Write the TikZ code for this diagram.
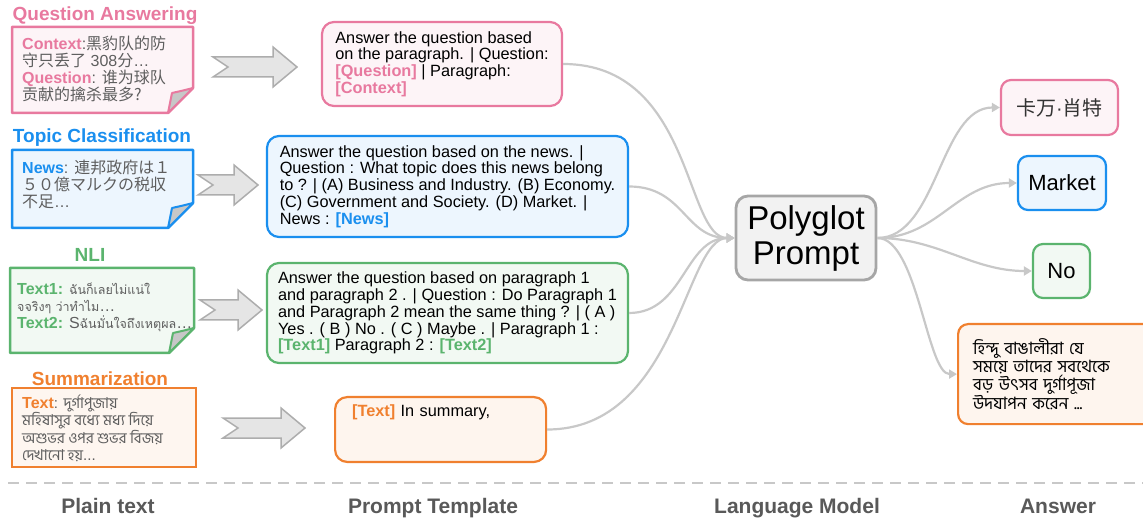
\documentclass[tikz,border=0pt]{standalone}
\usepackage{fontspec}
\setmainfont{Liberation Sans}
\newfontfamily\zhfont{Noto Sans CJK SC}
\newfontfamily\jafont{Noto Sans CJK JP}
\newfontfamily\thaifont[Script=Thai]{Loma}
\newfontfamily\bnfont[Script=Bengali]{Hind Siliguri}
\usepackage{tikz}
\usetikzlibrary{arrows.meta}

\definecolor{qapink}{HTML}{E8799F}
\definecolor{tcblue}{HTML}{1A8FEF}
\definecolor{nligreen}{HTML}{5BB46E}
\definecolor{suorange}{HTML}{F0802F}
\definecolor{linegray}{HTML}{C8C8C8}
\definecolor{notegray}{HTML}{5E5E5E}
\definecolor{labelgray}{HTML}{595959}

\newcommand{\phold}[2]{\textcolor{#1}{\bfseries[#2]}}
\newcommand{\notepaper}[5]{%
  \filldraw[draw=#5, fill=#5!8, line width=2.5pt, line join=round]
    (#1,#2) -- (#3,#2) -- (#3,#4-25) -- (#3-25,#4) -- (#1,#4) -- cycle;
  \filldraw[draw=#5, fill=black!22, line width=2pt, line join=round]
    (#3,#4-25) .. controls (#3-12,#4-22) .. (#3-21,#4-20) -- (#3-25,#4) -- cycle;
}

\tikzset{
  tasktitle/.style={anchor=base, text=#1, font=\fontsize{19}{21}\selectfont\bfseries},
  notetext/.style={anchor=north west, align=left, inner sep=0pt, text=notegray,
    font=\fontsize{16}{17}\selectfont},
  prompt/.style={draw=#1, fill=#1!8, line width=2.2pt, rounded corners=12pt,
    align=left, inner sep=0pt, font=\fontsize{16.3}{16.8}\selectfont},
  answer/.style={draw=#1, fill=#1!8, line width=2.2pt, rounded corners=10pt,
    inner sep=0pt, font=\fontsize{22}{24}\selectfont},
  conn/.style={draw=linegray, line width=2.2pt, -{Triangle[width=9pt,length=8pt]}},
  stagelabel/.style={anchor=base, text=labelgray, font=\fontsize{21}{23}\selectfont\bfseries},
  pics/fatarrow/.style={code={
    \filldraw[draw=black!32, fill=black!10, line width=1.5pt, line join=miter]
      (0,-10) -- (#1-24,-10) -- (#1-24,-20) -- (#1,0) -- (#1-24,20)
      -- (#1-24,10) -- (0,10) -- (15,0) -- cycle;
  }}
}

\begin{document}
\begin{tikzpicture}[x=1pt, y=-1pt]
\useasboundingbox (0,0) rectangle (1143,518);

% plain text
\node[tasktitle=qapink] (qatitle) at (105,21) {Question Answering};
\notepaper{12}{27}{193}{113}{qapink}
\node[notetext] (qanote) at (22,36) {\textcolor{qapink}{\bfseries Context}:{\zhfont 黑豹队的防}\\
  {\zhfont 守只丢了} 308{\zhfont 分}…\\
  \textcolor{qapink}{\bfseries Question}: {\zhfont 谁为球队}\\
  {\zhfont 贡献的擒杀最多?}};

\node[tasktitle=tcblue] (tctitle) at (102,143) {Topic Classification};
\notepaper{12}{150}{193}{228}{tcblue}
\node[notetext] (tcnote) at (22,160) {\textcolor{tcblue}{\bfseries News}: {\jafont 連邦政府は１}\\
  {\jafont ５０億マルクの税収}\\
  {\jafont 不足}…};

\node[tasktitle=nligreen] (nlititle) at (90,262) {NLI};
\notepaper{10}{268}{194}{353}{nligreen}
\node[notetext] (nlinote) at (17,283) {\textcolor{nligreen}{\bfseries Text1:} {\thaifont\fontsize{12.5}{17}\selectfont ฉันก็เลยไม่แน่ใ}\\
  {\thaifont\fontsize{12.5}{17}\selectfont จจริงๆ ว่าทำไม}…\\
  \textcolor{nligreen}{\bfseries Text2:} S{\thaifont\fontsize{12.5}{17}\selectfont ฉันมั่นใจถึงเหตุผล}…};

\node[tasktitle=suorange] (sutitle) at (100,385) {Summarization};
\filldraw[draw=suorange, fill=suorange!7, line width=1.4pt] (12,388) rectangle (196,467);
\node[notetext, font=\fontsize{15}{17.5}\selectfont] (sunote) at (22,395) {\textcolor{suorange}{\fontsize{16}{17.5}\selectfont\bfseries Text}: {\bnfont দুর্গাপুজায়}\\
  {\bnfont মহিষাসুর বধ্যে মধ্য দিয়ে}\\
  {\bnfont অশুভর ওপর শুভর বিজয়}\\
  {\bnfont দেখানো হয়}...};

% block arrows
\pic at (213,67) {fatarrow=84};
\pic at (198,185) {fatarrow=60};
\pic at (200,310) {fatarrow=62};
\pic at (223,428) {fatarrow=82};

% prompt templates
\node[prompt=qapink, minimum width=240, minimum height=84] (qaprompt) at (442,64)
  {Answer the question based\\on the paragraph. | Question:\\\phold{qapink}{Question} | Paragraph:\\\phold{qapink}{Context}};
\node[prompt=tcblue, minimum width=361, minimum height=101] (tcprompt) at (447.5,186.5)
  {Answer the question based on the news. |\\Question : What topic does this news belong\\to ? | (A) Business and Industry. (B) Economy.\\(C) Government and Society. (D) Market. |\\News : \phold{tcblue}{News}};
\node[prompt=nligreen, minimum width=361, minimum height=100] (nliprompt) at (447.5,313)
  {Answer the question based on paragraph 1\\and paragraph 2 . | Question : Do Paragraph 1\\and Paragraph 2 mean the same thing ? | ( A )\\Yes . ( B ) No . ( C ) Maybe . | Paragraph 1 :\\\phold{nligreen}{Text1} Paragraph 2 : \phold{nligreen}{Text2}};
\node[prompt=suorange, anchor=north west, text width=177, inner xsep=17, inner ysep=8, text depth=37] (suprompt) at (334,396)
  {\phold{suorange}{Text} In summary,};

% language model
\node[draw=black!35, fill=black!5, line width=2.8pt, rounded corners=12pt, minimum width=140, minimum height=84,
  align=center, inner sep=0pt, font=\fontsize{33}{35}\selectfont] (poly) at (806,238) {Polyglot\\Prompt};

% answers
\node[answer=qapink, minimum width=117, minimum height=55, text=black!80] (qaans) at (1059.5,107.5)
  {\fontsize{20}{22}\selectfont{\zhfont 卡万}·{\zhfont 肖特}};
\node[answer=tcblue, minimum width=88, minimum height=54] (tcans) at (1062,183) {Market};
\node[answer=nligreen, minimum width=57, minimum height=54] (nlians) at (1061.5,271) {No};
\node[answer=suorange, anchor=north west, text width=185, inner xsep=15, minimum height=100, align=left,
  font=\bnfont\fontsize{17}{18}\selectfont] (suans) at (957,323)
  {হিন্দু বাঙালীরা যে\\সময়ে তাদের সবথেকে\\বড় উৎসব দুর্গাপূজা\\উদযাপন করেন ...};

% connectors
\draw[conn] (qaprompt.east) .. controls +(130,0) and +(-50,0) .. (poly.west);
\draw[conn] (tcprompt.east) .. controls +(55,0) and +(-50,0) .. (poly.west);
\draw[conn] (nliprompt.east) .. controls +(55,0) and +(-50,0) .. (poly.west);
\draw[conn] (suprompt.east) .. controls +(130,0) and +(-50,0) .. (poly.west);
\draw[conn] (poly.east) .. controls +(60,0) and +(-60,0) .. (qaans.west);
\draw[conn] (poly.east) .. controls +(60,0) and +(-60,0) .. (tcans.west);
\draw[conn] (poly.east) .. controls +(60,0) and +(-60,0) .. (nlians.west);
\draw[conn] (poly.east) .. controls +(40,0) and +(-30,0) .. (suans.west);

% stages
\draw[linegray, line width=2.5pt, dash pattern=on 11pt off 7pt] (8,483) -- (1143,483);
\node[stagelabel] (plainlbl) at (108,513) {Plain text};
\node[stagelabel] (templatelbl) at (433,513) {Prompt Template};
\node[stagelabel] (modellbl) at (797,513) {Language Model};
\node[stagelabel] (answerlbl) at (1058,513) {Answer};
\end{tikzpicture}
\end{document}
